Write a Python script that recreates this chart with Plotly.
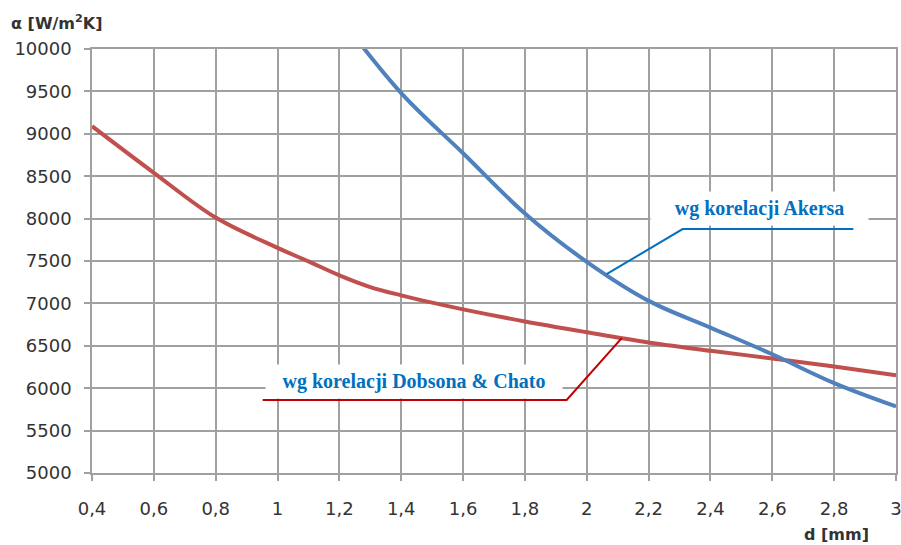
import plotly.graph_objects as go

# Heat transfer coefficient vs. tube diameter for two correlations
d_akers = [1.2, 1.4, 1.6, 1.8, 2.0, 2.2, 2.4, 2.6, 2.8, 3.0]
alpha_akers = [10380, 9480, 8770, 8060, 7490, 7030, 6715, 6400, 6060, 5785]

d_dobson = [0.4, 0.6, 0.8, 1.0, 1.1, 1.2, 1.3, 1.4, 1.5, 1.6, 1.8, 2.0, 2.2, 2.4, 2.6, 2.8, 3.0]
alpha_dobson = [9090, 8540, 8012, 7655, 7495, 7331, 7193, 7095, 7009, 6930, 6787, 6660, 6540,
                6441, 6351, 6256, 6153]

x_ticks = [0.4, 0.6, 0.8, 1.0, 1.2, 1.4, 1.6, 1.8, 2.0, 2.2, 2.4, 2.6, 2.8, 3.0]
x_tick_text = ["0,4", "0,6", "0,8", "1", "1,2", "1,4", "1,6", "1,8", "2", "2,2", "2,4", "2,6", "2,8", "3"]
y_ticks = [5000, 5500, 6000, 6500, 7000, 7500, 8000, 8500, 9000, 9500, 10000]

label_akers = "wg korelacji Akersa"
label_dobson = "wg korelacji Dobsona &amp; Chato"

# leader lines (data coordinates): curve point -> elbow -> end under label
leader_akers_x = [2.064, 2.310, 2.862]
leader_akers_y = [7345, 7876, 7876]
leader_dobson_x = [2.113, 1.935, 0.952]
leader_dobson_y = [6590, 5862, 5862]

BLUE = "#4F81BD"
RED = "#C0504D"
LEAD_BLUE = "#0070C0"
LEAD_RED = "#C00000"
GRID = "#A0A0A0"
TXT = "#333333"

fig = go.Figure()
fig.add_trace(go.Scatter(x=d_dobson, y=alpha_dobson, mode="lines",
                         line=dict(color=RED, width=4, shape="spline", smoothing=1.0),
                         showlegend=False, hoverinfo="skip"))
fig.add_trace(go.Scatter(x=d_akers, y=alpha_akers, mode="lines",
                         line=dict(color=BLUE, width=4, shape="spline", smoothing=1.0),
                         showlegend=False, hoverinfo="skip"))

# leader lines
for xs, ys, col in [(leader_akers_x, leader_akers_y, LEAD_BLUE),
                    (leader_dobson_x, leader_dobson_y, LEAD_RED)]:
    path = "M {} {}".format(xs[0], ys[0]) + "".join(" L {} {}".format(a, b) for a, b in zip(xs[1:], ys[1:]))
    fig.add_shape(type="path", path=path, xref="x", yref="y",
                  line=dict(color=col, width=2), layer="above")

# labels with white backgrounds
fig.add_annotation(x=2.560, y=8121, xref="x", yref="y", text="<b>" + label_akers + "</b>",
                   showarrow=False, bgcolor="white", width=211, height=27, borderpad=3,
                   font=dict(family="Liberation Serif", size=20, color=LEAD_BLUE))
fig.add_annotation(x=1.440, y=6080, xref="x", yref="y", text="<b>" + label_dobson + "</b>",
                   showarrow=False, bgcolor="white", width=290, height=27, borderpad=3,
                   font=dict(family="Liberation Serif", size=20, color=LEAD_BLUE))

# axis titles
fig.add_annotation(xref="paper", yref="paper", x=-83 / 804, y=1 + 27 / 424,
                   xanchor="left", yanchor="middle", showarrow=False,
                   text="<b>α [W/m<sup>2</sup>K]</b>",
                   font=dict(family="DejaVu Sans", size=16, color=TXT))
fig.add_annotation(xref="paper", yref="paper", x=(836.5 - 92) / 804, y=-(534 - 473) / 424,
                   xanchor="center", yanchor="middle", showarrow=False,
                   text="<b>d [mm]</b>",
                   font=dict(family="DejaVu Sans", size=16, color=TXT))

axis_common = dict(showgrid=True, gridcolor=GRID, gridwidth=1.5,
                   showline=True, linecolor=GRID, linewidth=1.5, mirror=True,
                   ticks="outside", ticklen=6, tickcolor=GRID, tickwidth=1.5,
                   zeroline=False, automargin=False, ticklabeloverflow="allow",
                   tickfont=dict(family="DejaVu Sans", size=18, color=TXT))

fig.update_xaxes(range=[0.4, 3.0], tickmode="array", tickvals=x_ticks, ticktext=x_tick_text,
                 ticklabelstandoff=13, **axis_common)
fig.update_yaxes(range=[5000, 10000], tickmode="array", tickvals=y_ticks,
                 ticktext=[str(v) for v in y_ticks], ticklabelstandoff=9, **axis_common)

fig.update_layout(width=901, height=545, margin=dict(l=92, r=5, t=49, b=72),
                  paper_bgcolor="white", plot_bgcolor="white", showlegend=False)

fig.write_html("out.html")
